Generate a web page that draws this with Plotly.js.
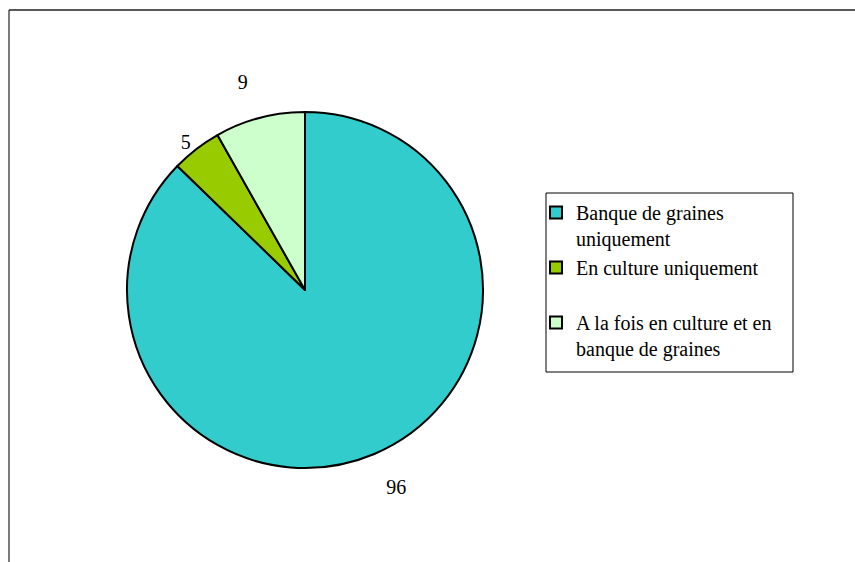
<!DOCTYPE html>
<html>
<head>
<meta charset="utf-8">
<script src="https://cdn.plot.ly/plotly-3.0.1.min.js"></script>
<style>html,body{margin:0;padding:0;background:#fff;}#chart{width:855px;height:562px;}</style>
</head>
<body>
<div id="chart"></div>
<script>
var categories = ["Banque de graines<br>uniquement", "En culture uniquement<br> ", "A la fois en culture et en<br>banque de graines"];
var values = [96, 5, 9];
var colors = ["#33CCCC", "#99CC00", "#CCFFCC"];
var labelTemplates = ["&nbsp;<br>%{value}", "%{value}", "%{value}<br>&nbsp;"];

var W = 855, H = 562;
var trace = {
  type: "pie",
  labels: categories,
  values: values,
  sort: false,
  direction: "clockwise",
  rotation: 0,
  marker: {colors: colors, line: {color: "#000000", width: 2}},
  texttemplate: labelTemplates,
  textposition: "outside",
  outsidetextfont: {family: "Liberation Serif, Times New Roman, serif", size: 20, color: "#000"},
  hoverinfo: "label+value",
  domain: {x: [(305 - 178) / W, (305 + 178) / W], y: [1 - 468 / H, 1 - 112 / H]}
};

var layout = {
  width: W, height: H,
  margin: {l: 0, r: 0, t: 0, b: 0},
  paper_bgcolor: "#ffffff",
  font: {family: "Liberation Serif, Times New Roman, serif", size: 20, color: "#000"},
  showlegend: true,
  legend: {
    x: 536 / W, y: 1 - 193 / H, xanchor: "left", yanchor: "top",
    bgcolor: "rgba(0,0,0,0)", borderwidth: 0,
    valign: "top",
    font: {family: "Liberation Serif, Times New Roman, serif", size: 20, color: "#000"},
    itemwidth: 30
  },
  shapes: [
    {type: "line", xref: "paper", yref: "paper", x0: 9 / W, x1: 1, y0: 1 - 10 / H, y1: 1 - 10 / H, line: {color: "#222", width: 1.5}},
    {type: "line", xref: "paper", yref: "paper", x0: 9 / W, x1: 9 / W, y0: 0, y1: 1 - 10 / H, line: {color: "#222", width: 1.2}},
    {type: "rect", xref: "paper", yref: "paper", x0: 546 / W, x1: 793 / W, y0: 1 - 372 / H, y1: 1 - 193 / H, line: {color: "#000", width: 1}, layer: "below"}
  ]
};

Plotly.newPlot("chart", [trace], layout, {displayModeBar: false, staticPlot: true});
</script>
</body>
</html>
